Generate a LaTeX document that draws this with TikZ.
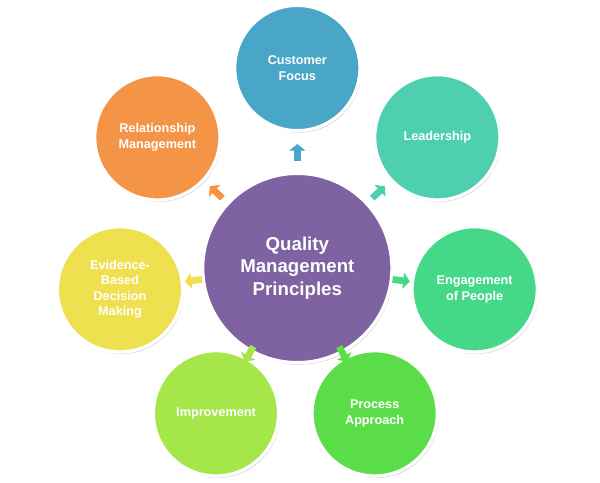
\documentclass[tikz,border=0pt]{standalone}
\usepackage{fontspec}
\setmainfont{Liberation Sans}
\usetikzlibrary{calc,shadows,arrows.meta}
\definecolor{cqual}{HTML}{7F62A1}
\definecolor{ccust}{HTML}{4AA6C6}
\definecolor{clead}{HTML}{4ECFB0}
\definecolor{ceng}{HTML}{45D889}
\definecolor{cproc}{HTML}{5BDD4A}
\definecolor{cimpr}{HTML}{A5E649}
\definecolor{cevid}{HTML}{EEE04F}
\definecolor{crel}{HTML}{F39446}
\begin{document}
\begin{tikzpicture}[x=1pt,y=-1pt,
        % --- styles ---
        ball/.style={circle, draw=white, line width=2.5pt, text=white, align=center,
            font=\bfseries\fontsize{9.5}{11.5}\selectfont, inner sep=0pt,
            drop shadow={shadow xshift=1pt, shadow yshift=-1.5pt, opacity=0.35}},
        small/.style={ball, minimum size=94pt},
        big/.style={ball, minimum size=142pt, font=\bfseries\fontsize{14}{17}\selectfont},
        link/.style={-{Triangle[length=5pt,width=12pt]}, line width=5pt}
    ]
    \useasboundingbox (0,0) rectangle (450,362);

    % centre
    \node[big, fill=cqual] (qmp) at (223,201) {Quality\\Management\\Principles};

    % principles
    \node[small, fill=ccust] (cust) at (223,51)  {Customer\\Focus};
    \node[small, fill=clead] (lead) at (328,103) {Leadership};
    \node[small, fill=ceng]  (eng)  at (356,217) {Engagement\\of People};
    \node[small, fill=cproc] (proc) at (281,310) {Process\\Approach};
    \node[small, fill=cimpr] (impr) at (162,310) {Improvement};
    \node[small, fill=cevid] (evid) at (90,217)  {Evidence-\\Based\\Decision\\Making};
    \node[small, fill=crel]  (rel)  at (118,103) {Relationship\\Management};

    % arrows, centred in each gap
    \foreach \n/\c in {cust/ccust, lead/clead, eng/ceng, proc/cproc,
                       impr/cimpr, evid/cevid, rel/crel} {
        \coordinate (m) at ($($(qmp.center)!71pt!(\n.center)$)!0.5!($(\n.center)!47pt!(qmp.center)$)$);
        \draw[link, \c] ($(m)!-7pt!(\n.center)$) -- ($(m)!6pt!(\n.center)$);
    }
\end{tikzpicture}
\end{document}
